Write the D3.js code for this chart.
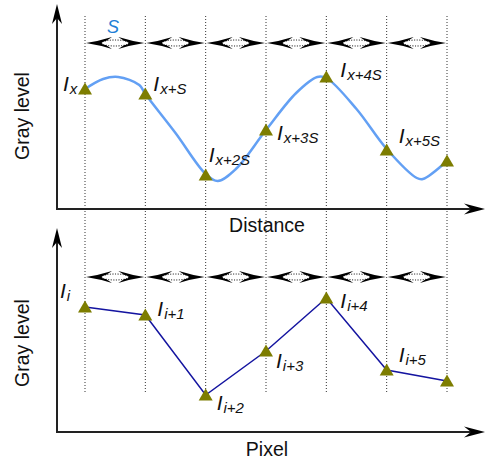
<!DOCTYPE html>
<html><head><meta charset="utf-8">
<script src="https://cdn.jsdelivr.net/npm/d3@7"></script>
<style>body{margin:0;background:#fff}svg{display:block}text{font-family:"Liberation Sans",Arial,sans-serif}</style>
</head><body>
<script>
// ---- data ----
const steps = [0, 1, 2, 3, 4, 5, 6];
const sampleGray = [60, 57.5, 17, 39.5, 66, 29.5, 24];
const curveDist = [0, 0.3, 0.55, 0.9, 1, 1.5, 2, 2.2, 2.5, 3, 3.5, 3.85, 4, 4.5, 5, 5.5, 5.6, 6];
const curveGray = [60, 65, 66, 62, 57.5, 38, 17.5, 14, 20, 39.5, 58, 66, 65.5, 50, 30, 15.5, 15, 24];
const pixelGray = [62.5, 58.5, 18.5, 40.5, 67, 31, 25.5];
const topSubs = ["x", "x+S", "x+2S", "x+3S", "x+4S", "x+5S"];
const bottomSubs = ["i", "i+1", "i+2", "i+3", "i+4", "i+5"];
const spacingLabel = "S";
const xTitleTop = "Distance", xTitleBottom = "Pixel", yTitle = "Gray level";

// ---- layout ----
const W = 486, H = 459;
const topLabelOff = [[-22, 2], [8, -3], [3, -13], [11, 10], [14, 0], [12, -7]];
const botLabelOff = [[-25, -9], [12, 1], [11, 15], [10, 17], [14, 10], [12, -8]];

const svg = d3.select("body").append("svg").attr("width", W).attr("height", H);
const x = d3.scaleLinear().domain([0, 6]).range([85, 447]);
const yTop = d3.scaleLinear().domain([0, 100]).range([209, 9]);
const yBot = d3.scaleLinear().domain([0, 100]).range([432, 232]);

// dotted verticals
svg.selectAll("line.v").data(steps).join("line")
  .attr("x1", d => x(d)).attr("x2", d => x(d)).attr("y1", 16).attr("y2", 394)
  .attr("stroke", "#333").attr("stroke-width", 1).attr("stroke-dasharray", "1,2");

// axes
const axisColor = "#222";
function axes(yBase, yTopEnd) {
  svg.append("path").attr("d", `M57,${yTopEnd + 6} L57,${yBase} L${W - 6},${yBase}`)
    .attr("fill", "none").attr("stroke", axisColor).attr("stroke-width", 2);
  svg.append("path").attr("d", `M57,${yTopEnd} L62,${yTopEnd + 20} L57,${yTopEnd + 14} L52,${yTopEnd + 20} Z`).attr("fill", "#000");
  svg.append("path").attr("d", `M${W - 1},${yBase} L${W - 22},${yBase - 5.5} L${W - 15},${yBase} L${W - 22},${yBase + 5.5} Z`).attr("fill", "#000");
}
axes(yTop.range()[0], 4);
axes(yBot.range()[0], 228);

// double arrows
function doubleArrows(yy) {
  const g = svg.append("g");
  steps.slice(0, -1).forEach(i => {
    const x0 = x(i), x1 = x(i + 1), m = (x0 + x1) / 2;
    g.append("path").attr("d", `M${x0 + 1},${yy} Q${x0 + 14},${yy - 2} ${x0 + 27},${yy - 6} L${x0 + 18},${yy} L${x0 + 27},${yy + 6} Q${x0 + 14},${yy + 2} ${x0 + 1},${yy} Z`).attr("fill", "#000");
    g.append("path").attr("d", `M${x1 - 1},${yy} Q${x1 - 14},${yy - 2} ${x1 - 27},${yy - 6} L${x1 - 18},${yy} L${x1 - 27},${yy + 6} Q${x1 - 14},${yy + 2} ${x1 - 1},${yy} Z`).attr("fill", "#000");
    g.append("ellipse").attr("cx", m).attr("cy", yy).attr("rx", 13.5).attr("ry", 3)
      .attr("fill", "#fff").attr("stroke", "#000").attr("stroke-width", 1).attr("stroke-dasharray", "1,1.5");
  });
}
doubleArrows(43);
doubleArrows(277);

// S label
svg.append("text").attr("x", 113).attr("y", 33).attr("text-anchor", "middle")
  .attr("font-size", 18).attr("font-style", "italic").attr("fill", "#1f7fd6").text(spacingLabel);

// top curve
const curvePts = curveDist.map((d, i) => [x(d), yTop(curveGray[i])]);
svg.append("path").attr("d", d3.line().curve(d3.curveCatmullRom.alpha(0.5))(curvePts))
  .attr("fill", "none").attr("stroke", "#63a0f4").attr("stroke-width", 2.5);

// bottom polyline
svg.append("path").attr("d", d3.line()(steps.map((s, i) => [x(s), yBot(pixelGray[i])])))
  .attr("fill", "none").attr("stroke", "#1414a0").attr("stroke-width", 1.5);

// triangles
const tri = "M0,-6.5 L7,5.5 L-7,5.5 Z";
function triangles(vals, ys) {
  svg.selectAll(null).data(vals).join("path")
    .attr("d", tri).attr("fill", "#7d7d00")
    .attr("transform", (d, i) => `translate(${x(steps[i])},${ys(d)})`);
}
triangles(sampleGray, yTop);
triangles(pixelGray, yBot);

// labels
function labels(subs, vals, ys, offs) {
  subs.forEach((s, i) => {
    const t = svg.append("text").attr("x", x(steps[i]) + offs[i][0]).attr("y", ys(vals[i]) + offs[i][1])
      .attr("font-style", "italic").attr("font-size", 21).attr("fill", "#111");
    t.append("tspan").text("I");
    t.append("tspan").attr("font-size", 15).attr("dy", 2.5).attr("dx", 1).text(s);
  });
}
labels(topSubs, sampleGray, yTop, topLabelOff);
labels(bottomSubs, pixelGray, yBot, botLabelOff);

// titles
const tfs = 19.5;
svg.append("text").attr("x", 267).attr("y", 232).attr("text-anchor", "middle").attr("font-size", tfs).attr("fill", "#111").text(xTitleTop);
svg.append("text").attr("x", 267).attr("y", 456).attr("text-anchor", "middle").attr("font-size", tfs).attr("fill", "#111").text(xTitleBottom);
svg.append("text").attr("transform", "translate(29,116) rotate(-90)").attr("text-anchor", "middle").attr("font-size", tfs).attr("fill", "#111").text(yTitle);
svg.append("text").attr("transform", "translate(29,343) rotate(-90)").attr("text-anchor", "middle").attr("font-size", tfs).attr("fill", "#111").text(yTitle);
</script>
</body></html>
